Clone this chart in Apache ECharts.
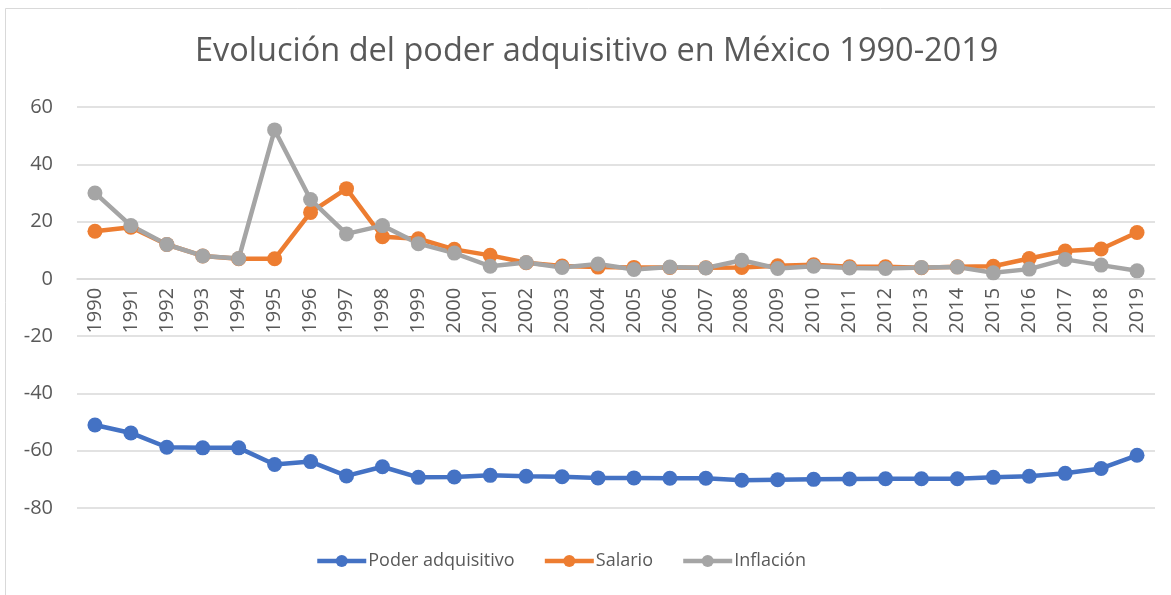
<!DOCTYPE html>
<html>
<head>
<meta charset="utf-8">
<script src="https://cdn.jsdelivr.net/npm/echarts@6/dist/echarts.min.js"></script>
<style>
  html, body { margin: 0; padding: 0; background: #fff; }
  #chart { width: 1171px; height: 595px; }
</style>
</head>
<body>
<div id="chart"></div>
<script>
const years = ['1990', '1991', '1992', '1993', '1994', '1995', '1996', '1997', '1998', '1999',
  '2000', '2001', '2002', '2003', '2004', '2005', '2006', '2007', '2008', '2009',
  '2010', '2011', '2012', '2013', '2014', '2015', '2016', '2017', '2018', '2019']

const poderAdquisitivo = [-51, -53.8, -58.8, -59, -59, -64.8, -63.8, -68.8, -65.6, -69.3,
  -69.2, -68.6, -68.9, -69.1, -69.5, -69.5, -69.6, -69.6, -70.3, -70.1,
  -70, -69.9, -69.8, -69.8, -69.8, -69.3, -68.9, -67.9, -66.2, -61.6]

const salario = [16.6, 18, 12, 8, 7, 7, 23.2, 31.5, 14.7, 14,
  10.3, 8.2, 5.6, 4.5, 4.1, 4, 4, 3.9, 4, 4.6,
  4.9, 4.2, 4.2, 3.9, 4.2, 4.4, 7.1, 9.7, 10.4, 16.2]

const inflacion = [30, 18.6, 12, 8, 7.1, 52, 27.7, 15.7, 18.6, 12.3,
  9, 4.4, 5.7, 4, 5.2, 3.3, 4.1, 3.8, 6.5, 3.6,
  4.4, 3.8, 3.6, 4, 4.1, 2.1, 3.4, 6.8, 4.8, 2.8]

const yTicks = { min: -80, max: 60, interval: 20 }

const textColor = '#595959'
const gridColor = '#d9d9d9'

// plot height 401px for 140 units -> the zero line sits 80 units above the bottom
const plotHeight = 401
const zeroOffset = -plotHeight * (0 - yTicks.min) / (yTicks.max - yTicks.min)

function makeSeries(name, data, color) {
  return {
    name: name,
    type: 'line',
    data: data,
    symbol: 'circle',
    symbolSize: 15,
    lineStyle: { width: 4.5, color: color },
    itemStyle: { color: color },
    emphasis: { disabled: true },
    animation: false
  }
}

const chart = echarts.init(document.getElementById('chart'))
chart.setOption({
  backgroundColor: '#fff',
  graphic: [
    {
      type: 'rect',
      shape: { x: 5.5, y: 8.5, width: 1180, height: 600 },
      style: { fill: 'none', stroke: gridColor, lineWidth: 1 },
      silent: true
    }
  ],
  title: {
    text: 'Evolución del poder adquisitivo en México 1990-2019',
    left: 190,
    top: 30,
    textStyle: {
      color: textColor,
      fontSize: 32.5,
      fontWeight: 'normal',
      fontFamily: 'Open Sans'
    }
  },
  grid: {
    left: 77,
    right: 16,
    top: 107,
    bottom: 87,
    containLabel: false
  },
  legend: {
    bottom: 20,
    left: 310,
    itemWidth: 49,
    itemHeight: 15,
    itemGap: 28,
    lineStyle: { width: 4.5 },
    textStyle: { color: textColor, fontSize: 18, fontFamily: 'Open Sans', padding: [0, 0, 0, -3] },
    data: ['Poder adquisitivo', 'Salario', 'Inflación']
  },
  xAxis: {
    type: 'category',
    data: years,
    boundaryGap: true,
    position: 'bottom',
    offset: zeroOffset,
    axisLine: { onZero: false, lineStyle: { color: gridColor, width: 1.5 } },
    axisTick: { show: false },
    axisLabel: {
      rotate: 90,
      interval: 0,
      margin: 9,
      color: textColor,
      fontSize: 20,
      fontFamily: 'Open Sans'
    },
    z: 0
  },
  yAxis: {
    type: 'value',
    min: yTicks.min,
    max: yTicks.max,
    interval: yTicks.interval,
    axisLine: { show: false },
    axisTick: { show: false },
    splitLine: { lineStyle: { color: gridColor, width: 1.5 } },
    axisLabel: {
      margin: 24,
      color: textColor,
      fontSize: 20,
      fontFamily: 'Open Sans'
    }
  },
  series: [
    makeSeries('Poder adquisitivo', poderAdquisitivo, '#4472C4'),
    makeSeries('Salario', salario, '#ED7D31'),
    makeSeries('Inflación', inflacion, '#A5A5A5')
  ]
})
</script>
</body>
</html>
